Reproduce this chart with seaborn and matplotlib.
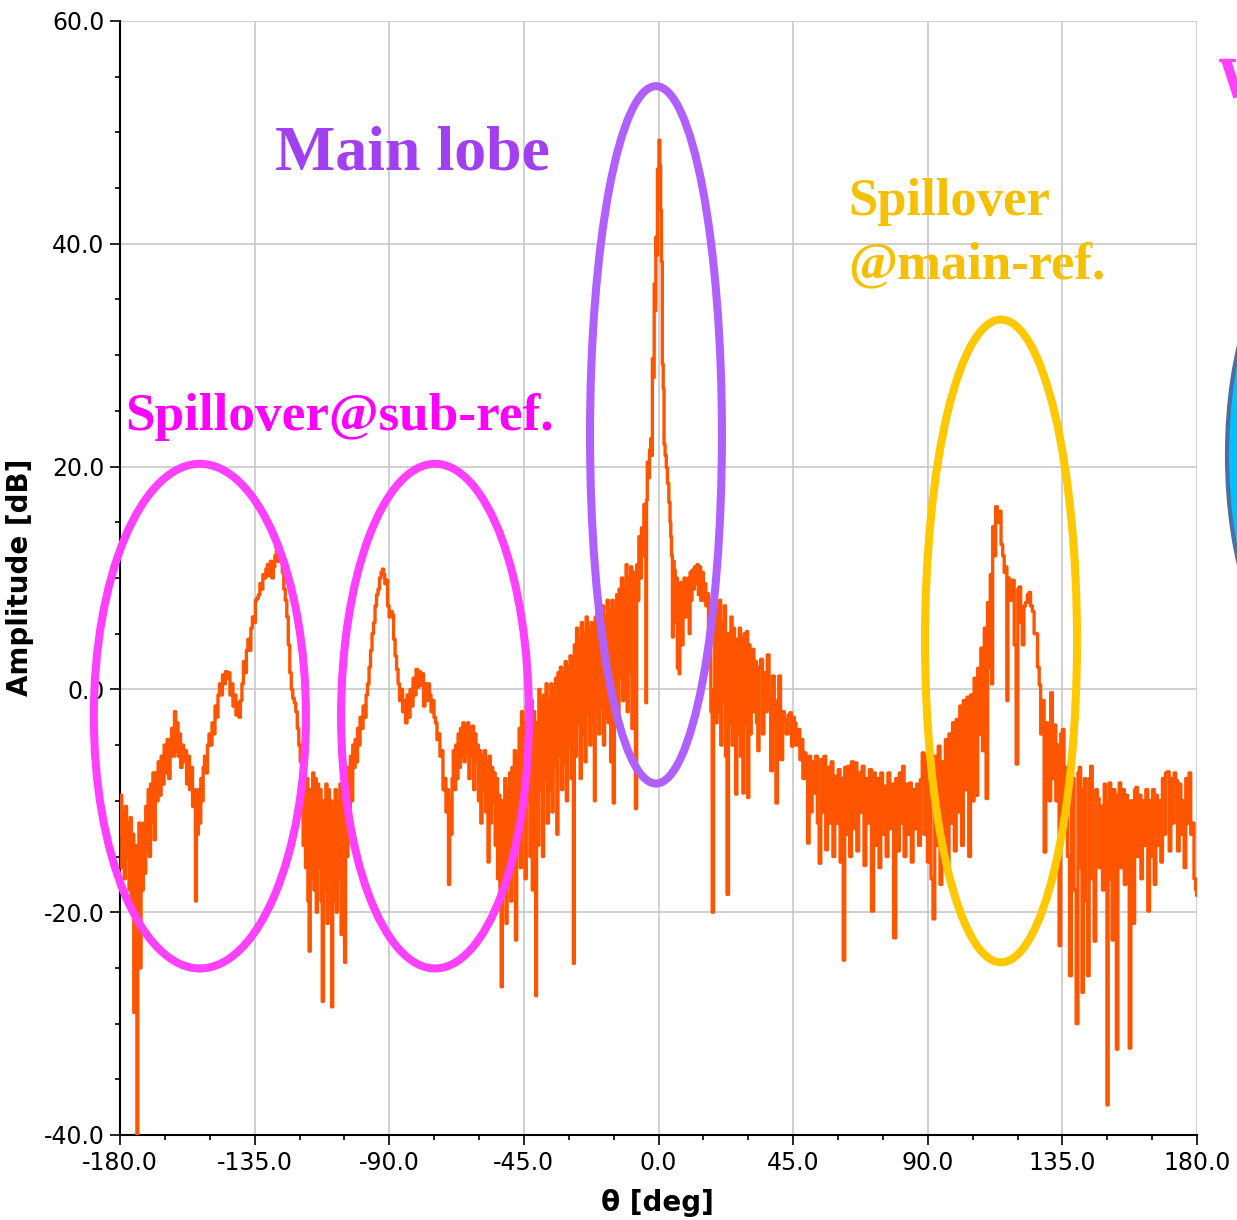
import matplotlib
matplotlib.use("Agg")
import matplotlib.pyplot as plt
import matplotlib.patches as mpatches
from matplotlib.lines import Line2D
from matplotlib.ticker import MultipleLocator, StrMethodFormatter
import seaborn as sns
import pandas as pd

# ---------------- data: (theta [deg], amplitude [dB]) ----------------
seg_far_left = [(-180.0, -13), (-179.6, -9.5), (-179.2, -16), (-178.8, -11), (-178.4, -17), (-178.0, -10.5),
                (-177.6, -15), (-177.2, -12), (-176.8, -18), (-176.4, -11.5), (-176.0, -19.5), (-175.6, -13),
                (-175.2, -29), (-174.9, -14), (-174.5, -19), (-174.2, -41), (-173.9, -20), (-173.5, -12),
                (-173.1, -25), (-172.8, -13), (-172.4, -18), (-172.0, -12), (-171.6, -16.5), (-171.2, -10.5),
                (-170.8, -14.5), (-170.4, -9), (-170.0, -15), (-169.6, -8.5), (-169.2, -12), (-168.8, -7.5),
                (-168.4, -13.5), (-168.0, -7.5)]
seg_bump_left = [(-167.5, -10), (-167, -6.5), (-166.5, -9.5), (-166, -6), (-165.5, -8.5), (-165, -5),
                 (-164.5, -7.5), (-164, -4.5), (-163.5, -8), (-163, -5), (-162.5, -3.5), (-162, -6),
                 (-161.6, -2.0), (-161.2, -5.5), (-160.8, -3), (-160.4, -6), (-160, -4), (-159.5, -7),
                 (-159, -5), (-158.5, -6.5), (-158, -5.5), (-157.5, -8.5), (-157, -6), (-156.5, -9),
                 (-156, -7), (-155.5, -10.5), (-155, -9), (-154.6, -19), (-154.3, -10), (-154, -13),
                 (-153.6, -9), (-153.2, -12), (-152.8, -8), (-152.4, -10), (-152, -7), (-151.5, -6),
                 (-151, -7.5), (-150.5, -5)]
seg_shoulder = [(-150, -4), (-149.5, -5), (-149, -3), (-148.5, -4), (-148, -1.5), (-147.5, -2.5),
                (-147, -0.5), (-146.5, 0.5), (-146, -0.5), (-145.5, 1.3), (-145, 0.5), (-144.5, 1.6),
                (-144, 1.0), (-143.5, 1.5), (-143, -0.5), (-142.5, 0.5), (-142, -1.5), (-141.5, -0.5),
                (-141, -2.3), (-140.5, -1.2), (-140, -2.5), (-139.5, -1.0), (-139, 0.5)]
seg_sub_peak1 = [(-138.5, 2.5), (-138, 1.5), (-137.5, 3.5), (-137, 4.5), (-136.5, 3.5), (-136, 5.5),
                 (-135.5, 6.5), (-135, 6), (-134.5, 8), (-134, 8.2), (-133.5, 8.5), (-133, 9.5),
                 (-132.5, 9), (-132, 10.3), (-131.5, 10), (-131, 10.8), (-130.5, 11.2), (-130, 10.2),
                 (-129.5, 11.5), (-129, 10), (-128.5, 11), (-128, 12), (-127.5, 12.8), (-127, 11.5),
                 (-126.5, 12), (-126, 11.5), (-125.5, 10.5), (-125, 9), (-124.5, 8), (-124, 6.5),
                 (-123.5, 4), (-123, 1.5), (-122.5, 0), (-122, -0.8), (-121.5, -1.2), (-121, -2),
                 (-120.5, -3.5), (-120, -5), (-119.5, -6.5), (-119, -7.5)]
seg_gap1 = [(-118.6, -14), (-118.2, -6), (-117.8, -16), (-117.4, -8), (-117.0, -19), (-116.6, -23.5),
            (-116.2, -9), (-115.8, -17), (-115.4, -7.5), (-115.0, -18), (-114.6, -8), (-114.2, -20),
            (-113.8, -8.5), (-113.4, -16), (-113.0, -9), (-112.6, -19), (-112.2, -28), (-111.8, -10),
            (-111.4, -18), (-111.0, -8.5), (-110.6, -21), (-110.2, -9), (-109.8, -17), (-109.4, -10),
            (-109.1, -28.5), (-108.7, -11), (-108.3, -19), (-107.9, -9), (-107.5, -20), (-107.1, -10),
            (-106.7, -17), (-106.3, -8.5), (-105.9, -22), (-105.5, -10), (-105.1, -18), (-104.8, -24.5),
            (-104.4, -9), (-104.0, -15), (-103.6, -7), (-103.2, -12), (-102.8, -6), (-102.4, -10),
            (-102, -5)]
seg_sub_peak2 = [(-101.6, -7), (-101.2, -4.5), (-100.8, -6.5), (-100.4, -3.5), (-100, -5), (-99.5, -2.5),
                 (-99, -3.5), (-98.5, -1.5), (-98, -2.5), (-97.5, -0.5), (-97, 0.5), (-96.5, 2),
                 (-96, 3.5), (-95.5, 5), (-95, 6), (-94.5, 7.5), (-94, 8.5), (-93.5, 9), (-93, 10),
                 (-92.5, 10.5), (-92.1, 10.8), (-91.7, 10.3)]
seg_sub_tail2 = [(-91.3, 9.5), (-90.8, 9.8), (-90.3, 7.5), (-89.8, 6.5), (-89.3, 7), (-88.8, 6.7),
                 (-88.3, 4.5), (-87.8, 3), (-87.3, 1.8), (-86.8, 0.5), (-86.3, -1), (-85.8, 0),
                 (-85.3, -2), (-84.8, -1), (-84.3, -3), (-83.8, -0.5), (-83.3, -2.5), (-82.8, 0),
                 (-82.3, -1.5), (-81.8, 1), (-81.3, -0.5), (-80.8, 1.8), (-80.3, 0.2), (-79.8, 1.6),
                 (-79.3, 0.4), (-78.8, 1.4), (-78.3, -1.5), (-77.8, 0.5), (-77.3, -1), (-76.8, 0.5),
                 (-76.3, -0.5), (-75.8, -2), (-75.3, -1), (-74.8, -2.5), (-74.3, -3), (-73.8, -4.5),
                 (-73.3, -4), (-72.8, -6), (-72.3, -5.5), (-71.8, -9), (-71.3, -8), (-70.8, -11),
                 (-70.4, -9), (-70.0, -17.5), (-69.6, -10), (-69.2, -13), (-68.8, -8)]
seg_gap2 = [(-68.4, -5.5), (-68.0, -9), (-67.6, -5), (-67.2, -8), (-66.8, -4), (-66.4, -7), (-66.0, -3.5),
            (-65.6, -6), (-65.2, -3), (-64.8, -6.5), (-64.4, -3.3), (-64.0, -5.5), (-63.6, -3), (-63.2, -8),
            (-62.8, -3.5), (-62.4, -6), (-62.0, -3.3), (-61.6, -9), (-61.2, -4), (-60.8, -6.5), (-60.4, -5),
            (-60.0, -10), (-59.6, -5.5), (-59.2, -12), (-58.8, -6), (-58.4, -9), (-58.0, -5.5), (-57.6, -11),
            (-57.2, -6.5), (-56.8, -15.5), (-56.4, -6), (-56.0, -12), (-55.6, -7), (-55.2, -10), (-54.8, -7.5),
            (-54.4, -14), (-54.0, -8), (-53.6, -17), (-53.2, -9.5), (-52.8, -19.5), (-52.4, -26.7), (-52.0, -10),
            (-51.6, -17), (-51.2, -8), (-50.8, -21), (-50.4, -9), (-50.0, -15), (-49.6, -7.5), (-49.2, -19),
            (-48.8, -7), (-48.4, -13), (-48.0, -5.5), (-47.6, -22.5), (-47.2, -6), (-46.8, -14)]
seg_rise = [(-46.4, -3.5), (-46.0, -16), (-45.6, -2), (-45.2, -12), (-44.8, -3), (-44.4, -17), (-44.0, -1.5),
            (-43.6, -10), (-43.2, -3.5), (-42.8, -15), (-42.4, -1), (-42.0, -18), (-41.6, -2), (-41.2, -12),
            (-40.9, -27.5), (-40.6, -3), (-40.2, -14), (-39.8, 0), (-39.4, -9), (-39.0, -1), (-38.6, -15),
            (-38.2, -0.5), (-37.8, -8), (-37.4, 0.5), (-37.0, -12), (-36.6, -1), (-36.2, -9), (-35.8, 0.5),
            (-35.4, -11), (-35.0, 0), (-34.6, -7), (-34.2, 1), (-33.8, -13), (-33.4, 1.5), (-33.0, -6),
            (-32.6, 2), (-32.2, -9), (-31.8, 1.5), (-31.4, -6.5), (-31.0, 2.5), (-30.6, -10), (-30.2, 2),
            (-29.8, -5), (-29.4, 3), (-29.0, -8), (-28.6, 2.5), (-28.3, -24.6), (-28.0, 4), (-27.6, -6),
            (-27.2, 5.5), (-26.8, -3), (-26.4, 4.5), (-26.0, -8), (-25.6, 6), (-25.2, -4), (-24.8, 5),
            (-24.4, -6.5), (-24.0, 6.5), (-23.6, -2), (-23.2, 5.5), (-22.8, -5), (-22.4, 6), (-22.0, -3),
            (-21.6, 5), (-21.3, -10), (-21.0, 6.5), (-20.6, -2), (-20.2, 7), (-19.8, -4), (-19.4, 6),
            (-19.0, -1.5), (-18.6, 7.5), (-18.2, -5), (-17.8, 6.5), (-17.4, -2.5), (-17.0, 8), (-16.6, -3),
            (-16.2, 7), (-15.8, -6.5), (-15.4, 8), (-14.9, -10.2), (-14.6, 7), (-14.2, -1.5), (-13.8, 8.5),
            (-13.4, -3), (-13.0, 9), (-12.6, 1), (-12.2, 10), (-11.8, -1), (-11.4, 9), (-11.0, 0.5),
            (-10.7, 11.2), (-10.3, -2), (-9.9, 10), (-9.5, 1.5), (-9.1, 11), (-8.7, -3.5), (-8.3, 10.5),
            (-7.9, 2), (-7.5, -10.7), (-7.1, 11.2)]
seg_main_lobe = [(-6.8, 8), (-6.35, 13.7), (-5.9, 10), (-5.5, 14.5), (-5.1, 12), (-4.7, 16.6), (-4.3, 15),
                 (-4.1, -1.2), (-3.9, 17), (-3.6, 20.4), (-3.2, 19), (-2.8, 21.5), (-2.45, 22.5), (-2.2, 21),
                 (-1.9, 29.7), (-1.6, 28), (-1.3, 36.4), (-1.0, 34), (-0.8, 40.6), (-0.5, 39), (-0.2, 46.7),
                 (0.0, 44), (0.3, 49.3), (0.6, 47), (0.85, 43), (1.1, 38.4), (1.45, 29.2), (1.7, 27),
                 (2.0, 22), (2.4, 21), (2.8, 19.9), (3.2, 18.5), (3.7, 16.8), (4.0, 15), (4.2, 13.7),
                 (4.5, 12), (4.8, 4.7), (5.1, 11.5), (5.4, 10.7), (5.8, 6), (6.1, 10), (6.5, 1.9),
                 (6.8, 9.5), (7.0, 1.4), (7.3, 8.5), (7.6, 9.6), (8.0, 4), (8.4, 9), (8.7, 10), (9.1, 6.5),
                 (9.5, 9.6), (9.8, 7), (10.1, 10), (10.4, 5), (10.7, 10.5), (11.0, 8), (11.4, 10.7),
                 (11.8, 9), (12.2, 11), (12.6, 9.5), (13.1, 11.2), (13.5, 8.5), (13.9, 11), (14.3, 8),
                 (14.8, 10.5), (15.2, 8), (15.6, 9.5), (16.0, 7.5), (16.5, 8.6), (16.9, 3), (17.3, 7.5),
                 (17.7, -2), (18.2, -20), (18.6, 0), (19.0, 8), (19.4, -3), (19.8, 7.5)]
seg_decay = [(20.2, -2), (20.6, 8), (21.0, -5), (21.4, 6), (21.8, -1), (22.2, 7.5), (22.6, -6), (23.2, -18.4),
             (23.6, 5), (24.0, -3), (24.4, 6.5), (24.8, -5), (25.2, 5.5), (25.6, -2.5), (26.0, -9.4), (26.4, 4.5),
             (26.8, -4), (27.2, 5.5), (27.6, -6), (28.0, 4.5), (28.4, -9.3), (28.8, 5), (29.2, -3), (29.6, 5.2),
             (30.0, -9.7), (30.4, 4), (30.8, -4), (31.2, 3), (31.7, 3.6), (32.1, -2), (32.5, 2.5), (33.0, -3),
             (33.4, -5.5), (33.8, 2), (34.5, 2.7), (35.0, -4), (35.5, 1.5), (36.0, -2), (36.7, 3.1), (37.2, -1),
             (37.8, -7.3), (38.4, 1.2), (39.0, -3), (39.5, -10.2), (40.0, -1), (40.4, 1.2), (41.2, -6.3),
             (41.8, -2), (42.3, -2.7), (43.0, -4), (43.6, -2.3), (44.2, -2.1), (44.7, -5.1), (45.2, -2.5),
             (45.6, -3), (46.3, -5), (47.0, -3.6), (47.5, -6.3), (48.0, -4.5), (48.5, -8), (49.0, -5.7),
             (49.6, -7.5), (50.1, -13.8), (50.6, -6), (51.1, -11), (51.6, -6.5), (52.2, -9.3), (52.8, -6),
             (53.4, -12), (54.0, -15.6), (54.5, -6.3), (55.0, -11), (55.6, -6), (56.2, -14.4)]
seg_floor = [(56.8, -7), (57.4, -12), (58.0, -6.5), (58.6, -15), (59.2, -7.8), (59.8, -12), (60.4, -7.2),
             (61.0, -15.5), (61.5, -8), (62.0, -24.3), (62.5, -7), (63.0, -13), (63.6, -6.9), (64.2, -15),
             (64.8, -6.5), (65.4, -12.5), (66.0, -6.6), (66.6, -14.5), (67.2, -7.5), (67.8, -11), (68.4, -6.9),
             (69.0, -15.8), (69.6, -8), (70.2, -12), (70.8, -7.2), (71.6, -19.9), (72.2, -7.5), (72.8, -14),
             (73.4, -8), (74.0, -16), (74.6, -7.5), (75.2, -13), (75.8, -8.7), (76.4, -15), (77.0, -7.5),
             (77.6, -12.5), (78.2, -8.5), (79.0, -22.3), (79.6, -8), (80.2, -14.5), (80.8, -7.5), (81.4, -12),
             (81.8, -6.9), (82.4, -15), (83.0, -8.5), (83.6, -13), (84.2, -8.4), (84.8, -15.5), (85.4, -9),
             (86.0, -12.5), (86.6, -8.5), (87.2, -14), (87.9, -8.1), (88.4, -5.7), (89.0, -13), (89.6, -6),
             (90.2, -15.5), (90.8, -5.2), (91.4, -17), (92.1, -20.6), (92.6, -6), (93.2, -14), (93.8, -5.1),
             (94.4, -17.5), (95.0, -6.5), (95.6, -14.5), (96.2, -4.5), (96.8, -16), (97.4, -4), (98.0, -12),
             (98.6, -3), (99.2, -14.5), (99.8, -2.7), (100.4, -11), (101.0, -1.5), (101.6, -14), (102.2, -1),
             (102.8, -9), (103.4, -0.7), (104.0, -15), (104.6, -0.5), (105.2, -10)]
seg_main_ref = [(105.8, 1), (106.4, -9.5), (107.0, 1.9), (107.5, -4), (108.0, 3.7), (108.6, -5.5), (109.2, 5.5),
                (109.8, -9.8), (110.2, 7.8), (110.7, 2), (111.1, 10.3), (111.5, 0.5), (111.9, 14.6), (112.4, 12),
                (113.0, 16.4), (113.5, 15), (114.2, 16), (114.8, 13), (115.3, 12), (115.8, 10.5), (116.3, 11),
                (116.6, -1), (117.0, 10), (117.5, 9.5), (118.0, 8), (118.6, 9.8), (119.2, 4), (119.9, -6.7),
                (120.3, 9), (120.8, 9.2), (121.3, 6), (121.9, 4), (122.4, 7.5), (123.0, 7.8), (123.6, 8.5),
                (124.1, 8.7), (124.6, 7.5), (125.3, 7), (125.8, 5), (126.4, 5), (127.0, 2), (127.5, 0.4),
                (128.0, -4), (128.6, -1), (129.2, -14.6), (129.7, -3), (130.3, -4.7), (130.8, -10), (131.4, -0.3),
                (131.9, -8), (132.5, -3.2), (133.1, -10), (133.6, -5), (134.2, -23), (134.7, -4), (135.3, -3.6)]
seg_back = [(135.8, -12), (136.4, -7), (137.0, -15), (137.8, -25.7), (138.2, -7), (138.6, -8), (139.2, -18),
            (140.0, -30), (140.4, -7.5), (140.9, -7), (141.3, -16), (141.8, -27.2), (142.2, -9), (142.5, -8),
            (143.1, -19), (143.7, -25.7), (144.2, -8), (144.7, -6.9), (145.3, -17), (145.9, -22.6), (146.4, -9),
            (147.0, -9.8), (147.6, -16), (148.1, -10.5), (148.7, -18), (149.3, -8.5), (149.7, -15), (150.1, -37.3),
            (150.5, -10), (150.9, -8.4), (151.4, -17), (151.8, -22.5), (152.3, -9), (152.8, -15), (153.3, -32.3),
            (153.8, -9.5), (154.2, -8.4), (154.8, -16), (155.4, -9), (156.0, -17.5), (156.5, -9.5), (157.1, -14),
            (157.6, -32.2), (158.2, -10), (158.9, -21), (159.4, -9), (159.8, -8.8), (160.4, -15), (161.0, -9.5),
            (161.5, -17), (162.0, -10), (162.6, -14), (163.2, -9), (163.9, -19.9), (164.4, -10), (164.9, -15),
            (165.4, -9), (166.0, -17.5), (166.5, -9.5), (167.0, -14), (167.6, -10), (168.2, -15.5), (168.7, -8),
            (169.2, -13), (169.8, -7.5), (170.4, -7.4), (171.0, -14.5), (171.5, -8), (172.1, -12), (172.6, -7.5),
            (173.2, -8.2), (173.8, -14.5), (174.3, -8.5), (174.9, -13), (175.4, -10), (176.0, -16), (176.5, -8),
            (177.1, -12), (177.6, -7.5), (178.2, -13), (178.7, -12), (179.3, -17), (179.8, -18), (180.0, -18.5)]

x_ticks = [-180, -135, -90, -45, 0, 45, 90, 135, 180]
y_ticks = [-40, -20, 0, 20, 40, 60]

segments = [seg_far_left, seg_bump_left, seg_shoulder, seg_sub_peak1, seg_gap1, seg_sub_peak2,
            seg_sub_tail2, seg_gap2, seg_rise, seg_main_lobe, seg_decay, seg_floor, seg_main_ref, seg_back]
rows = [p for seg in segments for p in seg]
df = pd.DataFrame(rows, columns=["theta", "amp"])

# ---------------- figure ----------------
W, H = 1237, 1220
sns.set_theme(style="ticks")
plt.rcParams["axes.unicode_minus"] = False
plt.rcParams["font.family"] = ["DejaVu Sans"]

fig = plt.figure(figsize=(W / 100, H / 100), dpi=100)
ax = fig.add_axes([120 / W, 1 - 1135 / H, (1197 - 120) / W, (1135 - 21) / H])

sns.lineplot(data=df, x="theta", y="amp", ax=ax, color="#FF5500", linewidth=2.4,
             estimator=None, drawstyle="steps-mid", zorder=3)

ax.set_xlim(-180, 180)
ax.set_ylim(-40, 60)
ax.set_xticks(x_ticks)
ax.set_yticks(y_ticks)
ax.xaxis.set_minor_locator(MultipleLocator(15))
ax.yaxis.set_minor_locator(MultipleLocator(5))
ax.xaxis.set_major_formatter(StrMethodFormatter("{x:.1f}"))
ax.yaxis.set_major_formatter(StrMethodFormatter("{x:.1f}"))
ax.tick_params(which="major", direction="out", length=7.2, width=1.2, color="black",
               labelsize=17, pad=4, labelcolor="black")
ax.tick_params(which="minor", direction="out", length=3.6, width=1.2, color="black")
ax.grid(True, which="major", color="#C8C8C8", linewidth=1.2, zorder=0)
ax.set_axisbelow(True)
for s in ["top", "right"]:
    ax.spines[s].set_visible(False)
for s in ["left", "bottom"]:
    ax.spines[s].set_color("black")
    ax.spines[s].set_linewidth(1.5)
ax.set_xlabel("")
ax.set_ylabel("")

fig.text(657 / W, 1 - 1203 / H, "θ [deg]", ha="center", va="center",
         fontsize=20, fontweight="bold", color="black")
fig.text(20 / W, 1 - 577 / H, "Amplitude [dB]", ha="center", va="center", rotation=90,
         fontsize=20, fontweight="bold", color="black")

# ---------------- annotation ellipses (data coordinates) ----------------
ell_specs = [((-153.3, -2.4), 70.9, 45.3, "#FF40FF"),
             ((-74.7, -2.4), 62.8, 45.3, "#FF40FF"),
             ((-0.84, 22.85), 44.1, 62.6, "#B060FF"),
             ((114.5, 4.35), 50.8, 57.7, "#FFC800")]
for c, w, h, col in ell_specs:
    ax.add_patch(mpatches.Ellipse(c, w, h, fill=False, edgecolor=col, linewidth=5.8,
                                  clip_on=False, zorder=5))

serif = ["Liberation Serif", "DejaVu Serif"]
fig.text(275 / W, 1 - 170 / H, "Main lobe", ha="left", va="baseline", fontsize=46,
         fontweight="bold", family=serif, color="#A040F0")
fig.text(125 / W, 1 - 430 / H, "Spillover@sub-ref.", ha="left", va="baseline", fontsize=38.3,
         fontweight="bold", family=serif, color="#FF00FF")
fig.text(848 / W, 1 - 215 / H, "Spillover", ha="left", va="baseline", fontsize=38,
         fontweight="bold", family=serif, color="#F5C000")
fig.text(848 / W, 1 - 278 / H, "@main-ref.", ha="left", va="baseline", fontsize=38,
         fontweight="bold", family=serif, color="#F5C000")

# cut-off shapes at the right edge of the picture
fig.lines.append(Line2D([1226 / W, 1239 / W], [1 - 60 / H, 1 - 100 / H], transform=fig.transFigure,
                        color="#FF40FF", linewidth=7, solid_capstyle="butt"))
fig.lines.append(Line2D([1220 / W, 1234 / W], [1 - 60 / H, 1 - 60 / H], transform=fig.transFigure,
                        color="#FF40FF", linewidth=2.5))
fig.patches.append(mpatches.Ellipse((1300 / W, 1 - 455 / H), 146 / W, 400 / H,
                                    transform=fig.transFigure, facecolor="#00C0FF",
                                    edgecolor="#4A6FA0", linewidth=3))

fig.savefig("out.png", dpi=100)
